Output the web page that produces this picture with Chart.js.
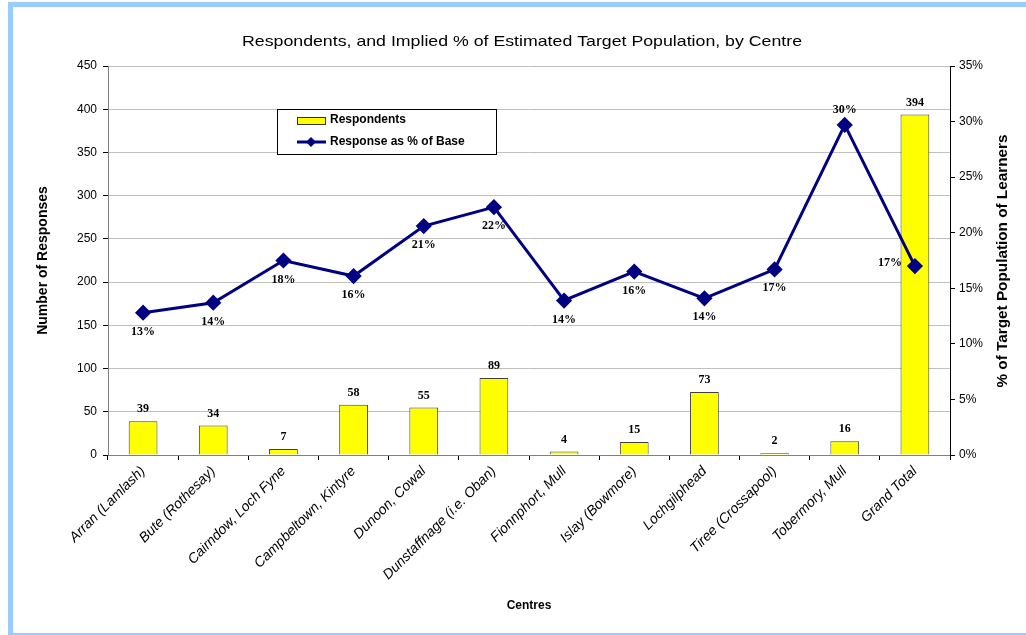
<!DOCTYPE html>
<html>
<head>
<meta charset="utf-8">
<script src="https://cdn.jsdelivr.net/npm/chart.js@4.4.1/dist/chart.umd.min.js"></script>
<style>
  html, body { margin: 0; padding: 0; background: #fff; }
  #wrap { position: relative; width: 1026px; height: 635px; overflow: hidden; }
  .edge { position: absolute; background: #99ccff; }
  canvas { position: absolute; left: 0; top: 0; }
</style>
</head>
<body>
<div id="wrap">
  <canvas id="centreChart" width="1026" height="635"></canvas>
  <div class="edge" style="left:8px;top:2px;width:1018px;height:5px"></div>
  <div class="edge" style="left:8px;top:2px;width:5px;height:633px"></div>
  <div class="edge" style="left:8px;top:633px;width:1018px;height:2px"></div>
</div>
<script>
// data
const centres = [
  "Arran (Lamlash)", "Bute (Rothesay)", "Cairndow, Loch Fyne", "Campbeltown, Kintyre",
  "Dunoon, Cowal", "Dunstaffnage (i.e. Oban)", "Fionnphort, Mull", "Islay (Bowmore)",
  "Lochgilphead", "Tiree (Crossapool)", "Tobermory, Mull", "Grand Total"
];
const respondents = [39, 34, 7, 58, 55, 89, 4, 15, 73, 2, 16, 394];
const responsePct = [12.8, 13.7, 17.5, 16.1, 20.6, 22.3, 13.9, 16.5, 14.1, 16.7, 29.7, 17.0];
const pctLabels = ["13%", "14%", "18%", "16%", "21%", "22%", "14%", "16%", "14%", "17%", "30%", "17%"];

// where each % label sits relative to its marker
const pctLabelSide = ["below", "below", "below", "below", "below", "below",
  "below", "below", "below", "below", "above", "left"];

const chartTitle = "Respondents, and Implied % of Estimated Target Population, by Centre";
const rightTitle = "% of Target Population of Learners";
const sans = "Arial, 'Liberation Sans', sans-serif";

// text stretched to a given width (the reference is drawn wide)
function wideText(ctx, text, x, y, width) {
  const w = ctx.measureText(text).width;
  ctx.save();
  ctx.translate(x, y);
  ctx.scale(width / w, 1);
  ctx.fillText(text, 0, 0);
  ctx.restore();
}

// title, right axis title, value labels and the boxed legend
const extras = {
  id: "extras",
  afterDatasetsDraw(chart) {
    const ctx = chart.ctx;
    ctx.save();

    ctx.fillStyle = "#000";
    ctx.font = "15px " + sans;
    ctx.textAlign = "center";
    ctx.textBaseline = "middle";
    wideText(ctx, chartTitle, 522, 42, 560);

    ctx.save();
    ctx.translate(1003, 261);
    ctx.rotate(-Math.PI / 2);
    ctx.font = "bold 14px " + sans;
    wideText(ctx, rightTitle, 0, 0, 253);
    ctx.restore();

    // bar values
    ctx.font = "bold 12px 'Times New Roman', 'Liberation Serif', serif";
    ctx.textBaseline = "bottom";
    chart.getDatasetMeta(0).data.forEach((bar, i) => {
      ctx.fillText(String(respondents[i]), bar.x, bar.y - 6);
    });

    // percent labels
    chart.getDatasetMeta(1).data.forEach((pt, i) => {
      const side = pctLabelSide[i];
      ctx.textBaseline = "middle";
      if (side === "above") {
        ctx.textAlign = "center";
        ctx.fillText(pctLabels[i], pt.x, pt.y - 15);
      } else if (side === "left") {
        ctx.textAlign = "right";
        ctx.fillText(pctLabels[i], pt.x - 13, pt.y - 3);
      } else {
        ctx.textAlign = "center";
        ctx.fillText(pctLabels[i], pt.x, pt.y + 19);
      }
    });

    // legend box
    const lx = 277, ly = 109, lw = 219, lh = 45;
    ctx.fillStyle = "#fff";
    ctx.fillRect(lx, ly, lw, lh);
    ctx.strokeStyle = "#000";
    ctx.lineWidth = 1;
    ctx.strokeRect(lx + 0.5, ly + 0.5, lw, lh);

    ctx.fillStyle = "#ffff00";
    ctx.fillRect(297, 117, 28, 7);
    ctx.strokeStyle = "#333";
    ctx.strokeRect(297.5, 117.5, 28, 7);

    ctx.strokeStyle = "#000080";
    ctx.lineWidth = 3;
    ctx.beginPath();
    ctx.moveTo(297, 142);
    ctx.lineTo(326, 142);
    ctx.stroke();
    ctx.fillStyle = "#000080";
    ctx.beginPath();
    ctx.moveTo(311, 137);
    ctx.lineTo(316, 142);
    ctx.lineTo(311, 147);
    ctx.lineTo(306, 142);
    ctx.closePath();
    ctx.fill();

    ctx.fillStyle = "#000";
    ctx.font = "bold 12px " + sans;
    ctx.textAlign = "left";
    ctx.textBaseline = "middle";
    ctx.fillText("Respondents", 330, 120);
    ctx.fillText("Response as % of Base", 330, 142);

    ctx.restore();
  }
};

const ctx = document.getElementById("centreChart").getContext("2d");
const centreChart = new Chart(ctx, {
  type: "bar",
  data: {
    labels: centres,
    datasets: [
      {
        label: "Respondents",
        data: respondents,
        backgroundColor: "#ffff00",
        borderColor: "#404040",
        borderWidth: 1,
        barPercentage: 0.41,
        categoryPercentage: 1,
        yAxisID: "y",
        order: 2
      },
      {
        type: "line",
        label: "Response as % of Base",
        data: responsePct,
        borderColor: "#000080",
        backgroundColor: "#000080",
        borderWidth: 3,
        pointStyle: "rectRot",
        pointRadius: 6,
        pointHoverRadius: 6,
        tension: 0,
        fill: false,
        yAxisID: "y1",
        order: 1
      }
    ]
  },
  options: {
    responsive: false,
    animation: false,
    layout: { padding: { left: 14, right: 0, top: 66, bottom: 20 } },
    plugins: {
      legend: { display: false },
      title: { display: false },
      tooltip: { enabled: false }
    },
    scales: {
      x: {
        ticks: {
          autoSkip: false,
          maxRotation: 45,
          minRotation: 45,
          color: "#000",
          font: { family: sans, size: 14, style: "italic" }
        },
        grid: { drawOnChartArea: false, drawTicks: true, tickLength: 5, color: "#000" },
        border: { color: "#808080" },
        title: {
          display: true,
          text: "Centres",
          color: "#000",
          font: { family: sans, size: 12, weight: "bold" },
          padding: { top: 4, bottom: 2 }
        },
        afterFit(scale) { scale.height = 160; }
      },
      y: {
        position: "left",
        min: 0,
        max: 450,
        ticks: {
          stepSize: 50,
          color: "#000",
          padding: 6,
          font: { family: sans, size: 12 }
        },
        grid: { color: "#c0c0c0", tickLength: 5, tickColor: "#000" },
        border: { color: "#808080" },
        title: {
          display: true,
          text: "Number of Responses",
          color: "#000",
          font: { family: sans, size: 14, weight: "bold" },
          padding: { top: 21, bottom: 0 }
        },
        afterFit(scale) { scale.width = 94; }
      },
      y1: {
        position: "right",
        min: 0,
        max: 35,
        ticks: {
          stepSize: 5,
          color: "#000",
          padding: 4,
          callback: (v) => v + "%",
          font: { family: sans, size: 12 }
        },
        grid: { drawOnChartArea: false, tickLength: 5, tickColor: "#000" },
        border: { color: "#000" },
        afterFit(scale) { scale.width = 76; }
      }
    }
  },
  plugins: [extras]
});
</script>
</body>
</html>
